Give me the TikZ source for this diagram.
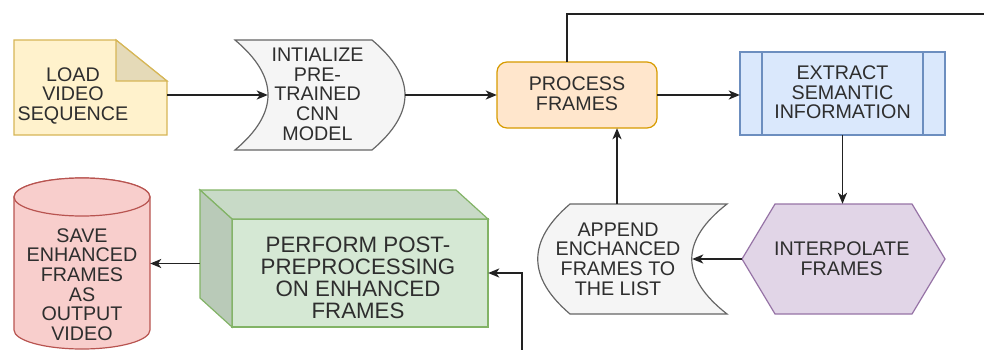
\documentclass[tikz,border=0pt]{standalone}
\usepackage{fontspec}
\setmainfont{Liberation Sans}
\usetikzlibrary{arrows.meta}
\definecolor{txtc}{HTML}{2E2E2E}
\definecolor{linec}{HTML}{222222}
\definecolor{loadf}{HTML}{FFF2CC}\definecolor{loadd}{HTML}{D6B656}
\definecolor{grayf}{HTML}{F5F5F5}\definecolor{grayd}{HTML}{666666}
\definecolor{procf}{HTML}{FFE6CC}\definecolor{procd}{HTML}{D79B00}
\definecolor{extf}{HTML}{DAE8FC}\definecolor{extd}{HTML}{6C8EBF}
\definecolor{intf}{HTML}{E1D5E7}\definecolor{intd}{HTML}{9673A6}
\definecolor{perff}{HTML}{D5E8D4}\definecolor{perfd}{HTML}{82B366}
\definecolor{savef}{HTML}{F8CECC}\definecolor{saved}{HTML}{B85450}
\newcommand\tb[4]{\hspace*{#1}\raisebox{#3}[0pt][0pt]{\begin{tabular}{@{}c@{}}#4\end{tabular}}\hspace*{#2}}
\tikzset{
  shp/.style={line width=1.2pt, line join=miter},
  docbox/.style={shp, fill=loadf, draw=loadd},
  storebox/.style={shp, fill=grayf, draw=grayd},
  procbox/.style={shp, fill=procf, draw=procd, rounded corners=10pt},
  subbox/.style={shp, fill=extf, draw=extd},
  hexbox/.style={shp, fill=intf, draw=intd},
  cubebox/.style={shp, draw=perfd},
  cylbox/.style={shp, fill=savef, draw=saved},
  lbl/.style={inner sep=0pt, text=txtc, font=\fontsize{19.7}{19.7}\selectfont},
  biglbl/.style={inner sep=0pt, text=txtc, font=\fontsize{22.3}{22}\selectfont},
  conn/.style={line width=1.7pt, draw=linec},
  arr/.style={conn, -{Stealth[length=11pt,width=9pt,inset=3pt]}},
}
\begin{document}
\begin{tikzpicture}[x=1pt,y=-1pt]
\useasboundingbox (0,0) rectangle (984,350);
% ---------- shapes ----------
% load video sequence (note)
\draw[docbox] (14,40) -- (116,40) -- (167,81) -- (167,135) -- (14,135) -- cycle;
\draw[docbox, fill=loadf!90!black] (116,40) -- (116,81) -- (167,81) -- cycle;
% initialize (stored data, flipped)
\draw[storebox] (235,40) -- (372,40) .. controls (416,77) and (416,113) .. (372,150)
  -- (235,150) .. controls (279,113) and (279,77) .. (235,40) -- cycle;
% process frames
\draw[procbox] (497,62) rectangle (657,128);
% extract semantic information (subprocess)
\draw[subbox] (740,52) rectangle (945,135);
\draw[subbox] (762,52) -- (762,135) (923,52) -- (923,135);
% interpolate frames (hexagon)
\draw[hexbox] (742,259) -- (775,204) -- (912,204) -- (945,259) -- (912,314) -- (775,314) -- cycle;
% append (stored data)
\draw[storebox] (570,204) -- (727,204) .. controls (680,240.7) and (680,277.3) .. (727,314)
  -- (570,314) .. controls (527,277.3) and (527,240.7) .. (570,204) -- cycle;
% perform post-processing (cube)
\draw[cubebox, fill=perff] (232,219) rectangle (488,327);
\draw[cubebox, fill=perff!94!black] (200,190) -- (456,190) -- (488,219) -- (232,219) -- cycle;
\draw[cubebox, fill=perff!87!black] (200,190) -- (232,219) -- (232,327) -- (200,298) -- cycle;
% save (cylinder)
\draw[cylbox] (14,197) -- (14,330) arc[start angle=180, end angle=360, x radius=68pt, y radius=19pt]
  -- (150,197) arc[start angle=0, end angle=180, x radius=68pt, y radius=19pt] -- cycle;
\draw[cylbox] (82,197) ellipse[x radius=68pt, y radius=19pt];
% ---------- nodes ----------
\node[lbl, minimum width=153pt, minimum height=95pt] (load) at (90.5,87.5)
  {\tb{0pt}{35pt}{-14.5pt}{LOAD\\VIDEO\\SEQUENCE}};
\node[lbl, minimum width=170pt, minimum height=110pt] (init) at (320,95)
  {\tb{0pt}{5pt}{-7pt}{INTIALIZE\\PRE-\\TRAINED\\CNN\\MODEL}};
\node[lbl, minimum width=160pt, minimum height=66pt] (process) at (577,95)
  {\tb{0pt}{0pt}{-6.5pt}{PROCESS\\FRAMES}};
\node[lbl, minimum width=205pt, minimum height=83pt] (extract) at (842.5,93.5)
  {\tb{0pt}{0pt}{-7pt}{EXTRACT\\SEMANTIC\\INFORMATION}};
\node[lbl, minimum width=203pt, minimum height=110pt] (interp) at (843.5,259)
  {\tb{0pt}{3.6pt}{-7.5pt}{INTERPOLATE\\FRAMES}};
\node[lbl, minimum width=189pt, minimum height=110pt] (append) at (632.5,259)
  {\tb{0pt}{29pt}{-8pt}{APPEND\\ENCHANCED\\FRAMES TO\\THE LIST}};
\node[biglbl, minimum width=288pt, minimum height=137pt] (perform) at (344,258.5)
  {\tb{28pt}{0pt}{-27.7pt}{PERFORM POST-\\PREPROCESSING\\ON ENHANCED\\FRAMES}};
\node[lbl, minimum width=136pt, minimum height=171pt] (save) at (82,263.5)
  {\tb{0pt}{0pt}{-29pt}{SAVE\\ENHANCED\\FRAMES\\AS\\OUTPUT\\VIDEO}};
\coordinate (inp) at (522,350);
\coordinate (outp) at (984,14);
% ---------- connectors ----------
\draw[arr] (load.east |- init) -- ([xshift=33pt]init.west);
\draw[arr] (init.east) -- (process.west);
\draw[arr] (process.east) -- (process.east -| extract.west);
\draw[arr] (extract.south) -- (extract.south |- interp.north);
\draw[arr] (interp.west) -- ([xshift=-35pt]append.east);
\draw[arr] ([xshift=-15.5pt]append.north) -- ([xshift=-15.5pt]append.north |- process.south);
\draw[arr] (inp) |- ([yshift=-14.5pt]perform.east);
\draw[arr] (save.east -| perform.west) -- (save.east);
\draw[conn] ([xshift=-10pt]process.north) |- (outp);
\end{tikzpicture}
\end{document}
